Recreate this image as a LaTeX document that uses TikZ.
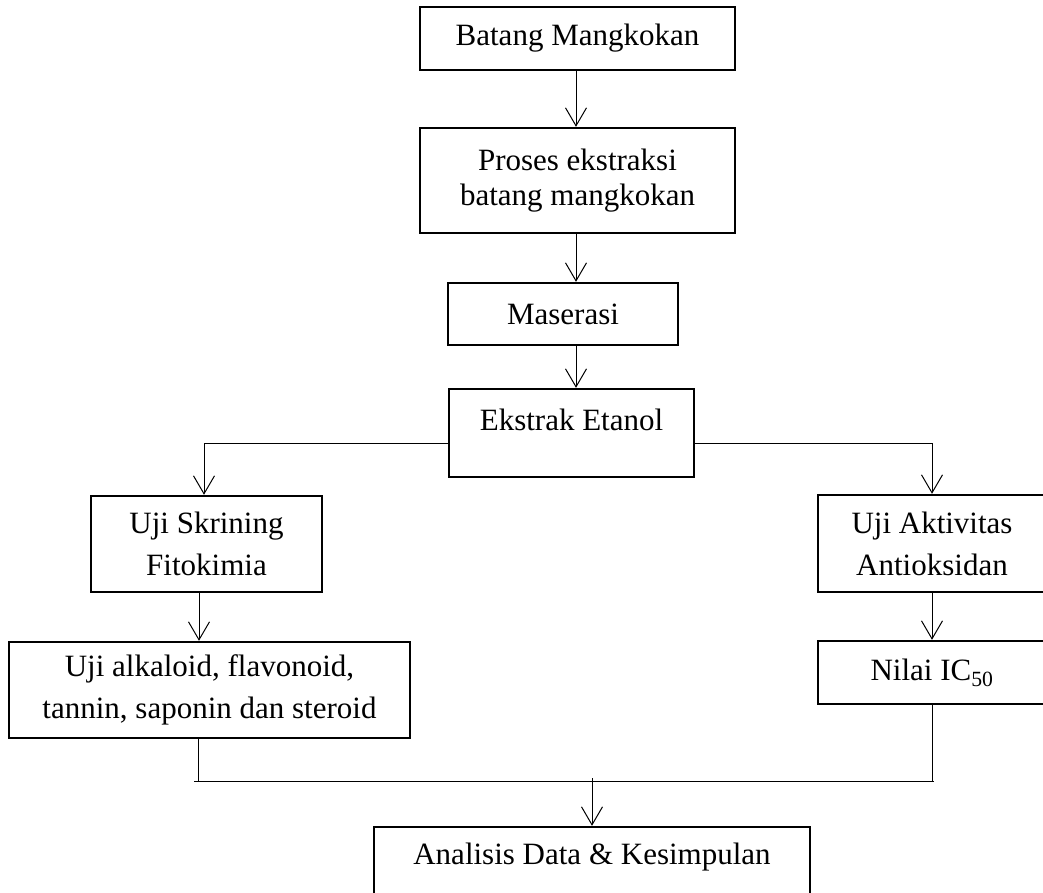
\documentclass[tikz,border=0pt]{standalone}
\usepackage{fontspec}
\setmainfont{Liberation Serif}
\usetikzlibrary{arrows.meta,calc}
\begin{document}
\begin{tikzpicture}[x=1pt,y=-1pt,
  box/.style={draw,line width=2.4pt,inner sep=0pt,align=center,
    font=\fontsize{31pt}{42pt}\selectfont},
  txt/.style={inner sep=0pt,align=center,font=\fontsize{31pt}{42pt}\selectfont},
  conn/.style={line width=1pt},
  arr/.style={conn,-{Straight Barb[length=18pt,width=21pt]}}]
\useasboundingbox (0,0) rectangle (1043,892);
\clip (0,0) rectangle (1043,892);
% boxes
\node[box,minimum width=315pt,minimum height=63pt] (b1) at (577.5,38.5) {Batang Mangkokan};
\node[box,minimum width=315pt,minimum height=105pt,font=\fontsize{31pt}{35pt}\selectfont] (b2) at (577.5,180.5) {Proses ekstraksi\\batang mangkokan};
\node[box,minimum width=230pt,minimum height=62pt] (b3) at (563,314) {Maserasi};
\node[box,minimum width=245pt,minimum height=88pt] (b4) at (571.5,433) {};
\node[txt] (b4t) at (571.5,420) {Ekstrak Etanol};
\node[box,minimum width=231pt,minimum height=96pt] (b5) at (206.5,544) {Uji Skrining\\Fitokimia};
\node[box,minimum width=228pt,minimum height=97pt] (b6) at (932,543.5) {Uji Aktivitas\\Antioksidan};
\node[box,minimum width=401pt,minimum height=96pt] (b7) at (209.5,690) {Uji alkaloid, flavonoid,\\tannin, saponin dan steroid};
\node[box,minimum width=228pt,minimum height=63pt] (b8) at (932,672.5) {Nilai IC\textsubscript{50}};
\node[box,minimum width=436pt,minimum height=90pt] (b9) at (592,872) {};
\node[txt] (b9t) at (592,857.5) {Analisis Data \& Kesimpulan};
% connectors
\coordinate (busL) at (194,781);
\coordinate (busR) at (934,781);
\coordinate (mid) at (576,0);
\draw[arr] (b1.south -| mid) -- (b2.north -| mid);
\draw[arr] (b2.south -| mid) -- (b3.north -| mid);
\draw[arr] (b3.south -| mid) -- (b4.north -| mid);
\draw[arr] ([shift={(0,56)}]b4.north west) -| ([xshift=-2.5pt]b5.north);
\draw[arr] ([shift={(0,56)}]b4.north east) -| (b6.north);
\draw[arr] ([xshift=-7.5pt]b5.south) -- ([xshift=-7.5pt]b5.south |- b7.north);
\draw[arr] (b6.south) -- (b8.north);
\draw[conn] ([xshift=-11.5pt]b7.south) -- ([xshift=-11.5pt]b7.south |- busL);
\draw[conn] (b8.south) -- (b8.south |- busL);
\draw[conn] (busL) -- (busR);
\draw[arr] ([shift={(0,-3)}]b9.north |- busL) -- (b9.north);
\end{tikzpicture}
\end{document}
